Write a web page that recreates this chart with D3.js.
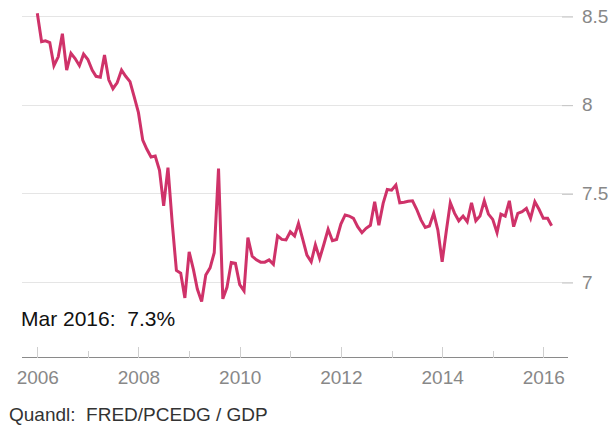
<!DOCTYPE html>
<meta charset="utf-8">
<style>

body {
  margin: 0;
}

text {
  font-family: "Liberation Sans", sans-serif;
}

.grid line {
  stroke: #e5e5e5;
  shape-rendering: crispEdges;
}

.axis--y path {
  display: none;
}

.axis--y line {
  stroke: #c4c4c4;
}

.axis--x path {
  stroke: #8a8a8a;
  shape-rendering: crispEdges;
}

.axis--x line {
  stroke: #cfcfcf;
  shape-rendering: crispEdges;
}

.axis text {
  fill: #888;
  font-size: 19px;
}

.line {
  fill: none;
  stroke: #cf3269;
  stroke-width: 3px;
  stroke-linejoin: miter;
}

.label {
  font-size: 21px;
  fill: #111;
}

.source {
  font-size: 19px;
  fill: #333;
}

</style>
<svg width="611" height="427"></svg>
<script src="https://d3js.org/d3.v7.min.js"></script>
<script>

// monthly ratio, Jan 2006 .. Mar 2016
var v2006 = [8.515, 8.355, 8.36, 8.35, 8.22, 8.27, 8.40, 8.195, 8.29, 8.26, 8.22, 8.285];
var v2007 = [8.255, 8.195, 8.16, 8.155, 8.28, 8.14, 8.09, 8.125, 8.195, 8.16, 8.13, 8.045];
var v2008 = [7.955, 7.80, 7.75, 7.705, 7.71, 7.63, 7.43, 7.645, 7.33, 7.065, 7.05, 6.91];
var v2009 = [7.17, 7.07, 6.96, 6.89, 7.04, 7.08, 7.165, 7.64, 6.905, 6.97, 7.11, 7.105];
var v2010 = [6.985, 6.95, 7.25, 7.145, 7.125, 7.112, 7.112, 7.125, 7.10, 7.26, 7.24, 7.237];
var v2011 = [7.283, 7.26, 7.33, 7.24, 7.152, 7.114, 7.21, 7.133, 7.214, 7.297, 7.233, 7.24];
var v2012 = [7.327, 7.378, 7.372, 7.359, 7.312, 7.278, 7.303, 7.32, 7.452, 7.32, 7.443, 7.522];
var v2013 = [7.518, 7.547, 7.447, 7.45, 7.455, 7.458, 7.41, 7.35, 7.308, 7.316, 7.387, 7.293];
var v2014 = [7.114, 7.293, 7.447, 7.387, 7.345, 7.372, 7.34, 7.447, 7.345, 7.372, 7.458, 7.383];
var v2015 = [7.353, 7.278, 7.383, 7.372, 7.458, 7.312, 7.387, 7.396, 7.415, 7.359, 7.452, 7.41];
var v2016 = [7.359, 7.359, 7.317];

var yTicks = [7, 7.5, 8, 8.5];
var xTickYears = [2006, 2007, 2008, 2009, 2010, 2011, 2012, 2013, 2014, 2015, 2016];
var lastLabel = "Mar 2016:  7.3%";
var source = "Quandl:  FRED/PCEDG / GDP";

var values = [].concat(v2006, v2007, v2008, v2009, v2010, v2011, v2012, v2013, v2014, v2015, v2016);
var months = d3.timeMonth.range(new Date(2006, 0, 1), new Date(2016, 3, 1));
var data = months.map(function(d, i) { return {date: d, value: values[i]}; });

var svg = d3.select("svg");

var x = d3.scaleTime()
    .domain([new Date(2006, 0, 1), new Date(2016, 0, 1)])
    .range([37.3, 543.3]);

var y = d3.scaleLinear()
    .domain([7, 8.5])
    .range([282, 16]);

var left = 22, right = 573, axisY = 357.5;

// gridlines
svg.append("g")
    .attr("class", "grid")
  .selectAll("line")
    .data(yTicks)
  .enter().append("line")
    .attr("x1", left)
    .attr("x2", right)
    .attr("y1", function(d) { return Math.round(y(d)) + 0.5; })
    .attr("y2", function(d) { return Math.round(y(d)) + 0.5; });

// right axis
svg.append("g")
    .attr("class", "axis axis--y")
    .attr("transform", "translate(" + (right - 11) + ",0)")
    .call(d3.axisRight(y).tickValues(yTicks).tickSize(11).tickPadding(9).tickFormat(d3.format("")))
    .selectAll("line").attr("transform", "translate(0,0.5)");

// bottom axis
var xAxis = svg.append("g")
    .attr("class", "axis axis--x")
    .attr("transform", "translate(0," + axisY + ")")
    .call(d3.axisBottom(x)
        .tickValues(xTickYears.map(function(yr) { return new Date(yr, 0, 1); }))
        .tickSize(0)
        .tickPadding(10)
        .tickFormat(function(d) { return d.getFullYear() % 2 === 0 ? d.getFullYear() : ""; }));

xAxis.select(".domain").attr("d", "M" + left + ",0H" + 567.5);

xAxis.selectAll(".tick line")
    .attr("y2", function(d) { return d.getFullYear() % 2 === 0 ? -11 : -7; });

xAxis.selectAll(".tick text").attr("dy", "0.85em");

svg.append("path")
    .datum(data)
    .attr("class", "line")
    .attr("d", d3.line()
        .x(function(d) { return x(d.date); })
        .y(function(d) { return y(d.value); }));

svg.append("text")
    .attr("class", "label")
    .attr("x", 21)
    .attr("y", 325.5)
    .style("white-space", "pre")
    .text(lastLabel);

svg.append("text")
    .attr("class", "source")
    .attr("x", 9)
    .attr("y", 421)
    .style("white-space", "pre")
    .text(source);

</script>
